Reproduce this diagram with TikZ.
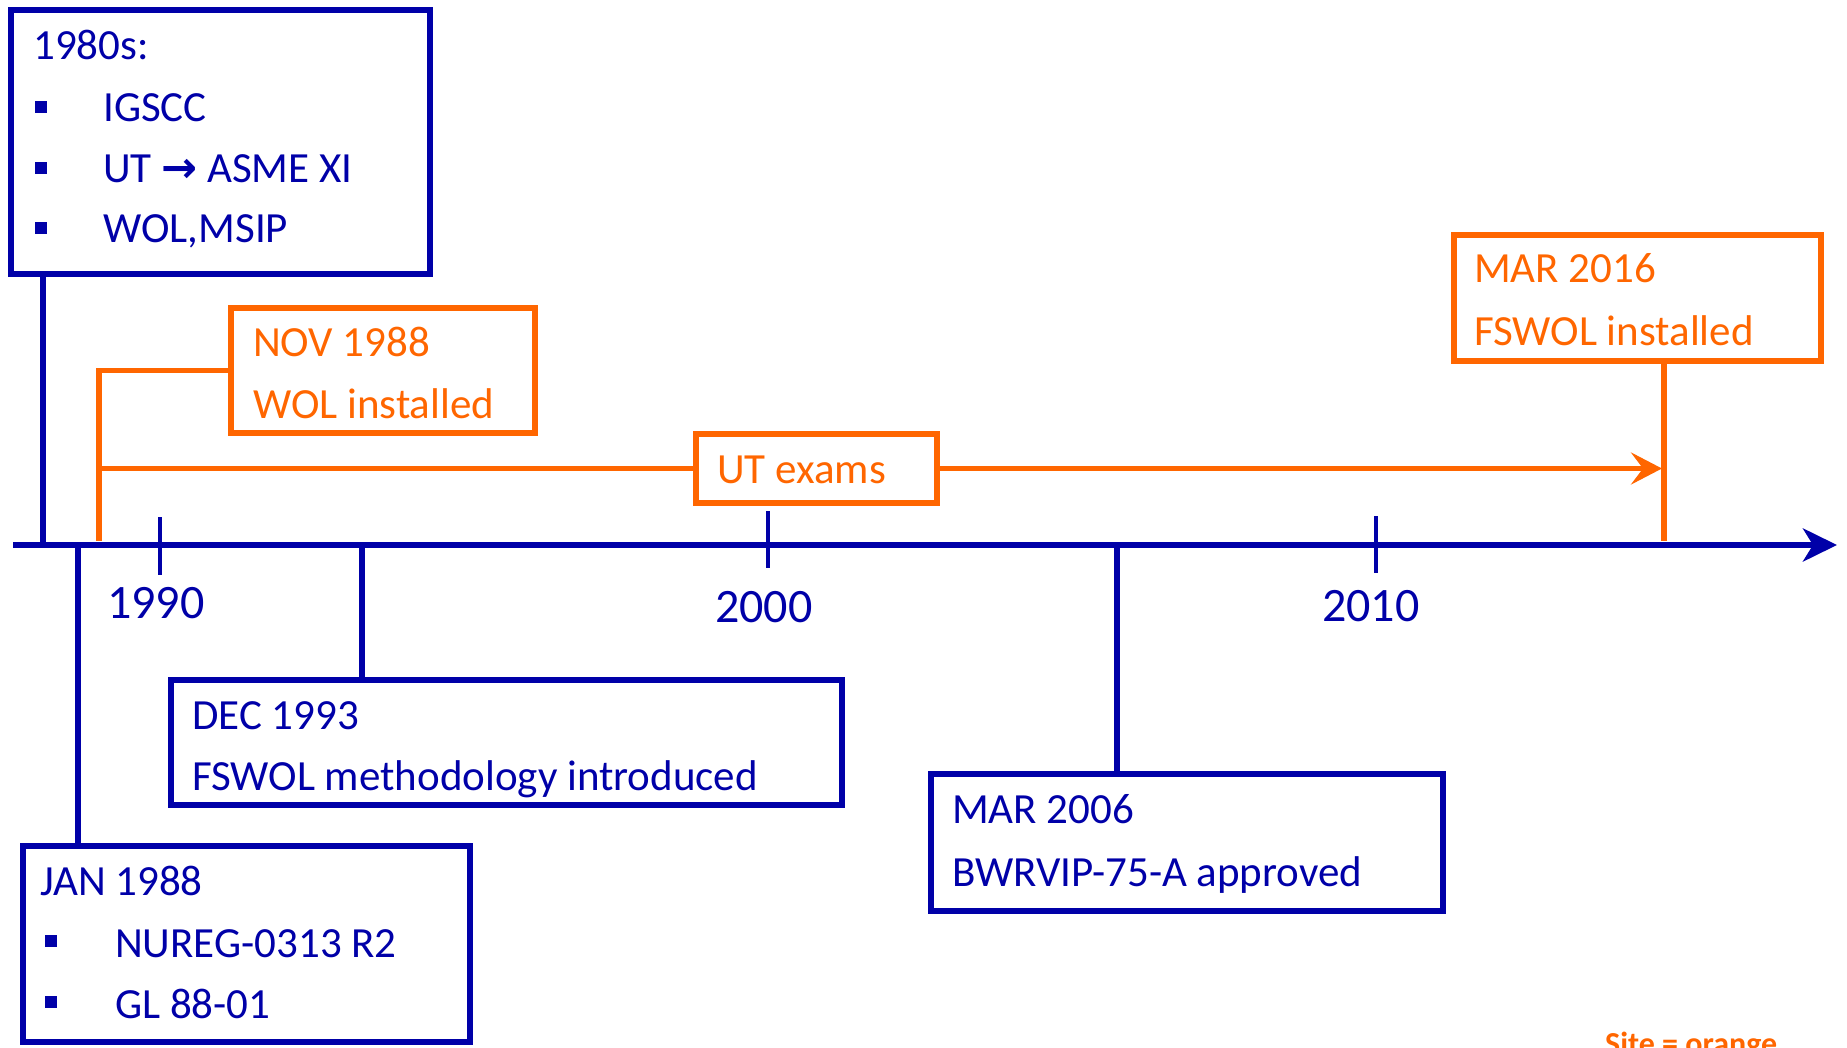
\documentclass[tikz,border=0pt]{standalone}
\usepackage{fontspec}
\setmainfont{Carlito}
\newfontfamily\arrowfont{DejaVu Sans}
\usetikzlibrary{arrows.meta}
\definecolor{tlblue}{RGB}{0,0,168}
\definecolor{tlorange}{RGB}{255,102,0}
\begin{document}
\begin{tikzpicture}[x=1pt,y=-1pt,
  bluebox/.style={rectangle,draw=tlblue,line width=6pt,inner sep=0pt,outer sep=0pt},
  orangebox/.style={rectangle,draw=tlorange,line width=6pt,inner sep=0pt,outer sep=0pt},
  btxt/.style={text=tlblue,anchor=base west,inner sep=0pt,font=\fontsize{43}{50}\selectfont},
  otxt/.style={text=tlorange,anchor=base west,inner sep=0pt,font=\fontsize{43}{50}\selectfont},
  yeartxt/.style={text=tlblue,anchor=base west,inner sep=0pt,font=\fontsize{48}{56}\selectfont},
  sqbullet/.style={rectangle,fill=tlblue,minimum size=12pt,inner sep=0pt,outer sep=0pt},
  blueline/.style={draw=tlblue,line width=6pt},
  orangeline/.style={draw=tlorange,line width=5.5pt},
  tickline/.style={draw=tlblue,line width=4pt}]
\useasboundingbox (0,0) rectangle (1847,1048);

% boxes
\node[bluebox,minimum width=419pt,minimum height=264pt] (b1980) at (220.5,142) {};
\node[bluebox,minimum width=447pt,minimum height=196pt] (bjan) at (246.5,944) {};
\node[orangebox,minimum width=304pt,minimum height=125pt] (bnov) at (383,370.5) {};
\node[orangebox,minimum width=241pt,minimum height=69pt] (but) at (816.5,468.5) {};
\node[orangebox,minimum width=367pt,minimum height=126pt] (bm16) at (1637.5,298) {};
\node[bluebox,minimum width=671pt,minimum height=125pt] (bdec) at (506.5,742.5) {};
\node[bluebox,minimum width=512pt,minimum height=137pt] (bm06) at (1187,842.5) {};

% texts
\node[btxt] (t1980) at (33,60) {1980s:};
\node[sqbullet] (s1) at (41,107) {};
\node[btxt] (t1980a) at (103,122) {IGSCC};
\node[sqbullet] (s2) at (41,168) {};
\node[btxt] (t1980b) at (103,183) {UT {\arrowfont\bfseries →} ASME XI};
\node[sqbullet] (s3) at (41,228) {};
\node[btxt] (t1980c) at (103,243) {WOL,MSIP};

\node[btxt] (tjan) at (40,895) {JAN 1988};
\node[sqbullet] (s4) at (51,941) {};
\node[btxt] (tjana) at (115,957) {NUREG-0313 R2};
\node[sqbullet] (s5) at (51,1002) {};
\node[btxt] (tjanb) at (115,1018) {GL 88-01};

\node[otxt] (tnov) at (253,357) {NOV 1988};
\node[otxt] (tnovb) at (253,418) {WOL installed};
\node[otxt] (tut) at (717,483) {UT exams};
\node[otxt] (tm16) at (1474,283) {MAR 2016};
\node[otxt] (tm16b) at (1474,346) {FSWOL installed};
\node[btxt] (tdec) at (192,729) {DEC 1993};
\node[btxt] (tdecb) at (192,790) {FSWOL methodology introduced};
\node[btxt] (tm06) at (952,823) {MAR 2006};
\node[btxt] (tm06b) at (952,886) {BWRVIP-75-A approved};

\node[yeartxt] (y1990) at (107,618) {1990};
\node[yeartxt] (y2000) at (715,622) {2000};
\node[yeartxt] (y2010) at (1322,621) {2010};

\node[text=tlorange,anchor=base west,inner sep=0pt,font=\fontsize{32}{38}\selectfont\bfseries] (site) at (1605,1054) {Site = orange};

% coordinates
\coordinate (tls) at (13,545);
\coordinate (tle) at (1837,545);
\coordinate (c1980) at (43,545);
\coordinate (cjan) at (78,545);
\coordinate (cdec) at (362,545);
\coordinate (cm06) at (1117,545);
\coordinate (cnovcorner) at (99,370.5);
\coordinate (cnovbase) at (99,541);
\coordinate (utstart) at (99,468.5);
\coordinate (utend) at (1662,468.5);
\coordinate (cm16) at (1664,541);
\coordinate (k90a) at (160,517);
\coordinate (k90b) at (160,575);
\coordinate (k00a) at (768,511);
\coordinate (k00b) at (768,568);
\coordinate (k10a) at (1376,516);
\coordinate (k10b) at (1376,573);

% connectors
\draw[blueline] (b1980.south -| c1980) -- (c1980);
\draw[blueline] (cjan) -- (cjan |- bjan.north);
\draw[blueline] (cdec) -- (cdec |- bdec.north);
\draw[blueline] (cm06) -- (cm06 |- bm06.north);
\draw[orangeline] (bnov.west) -- (cnovcorner) -- (cnovbase);
\draw[orangeline] (utstart) -- (but.west);
\draw[orangeline,-{Stealth[length=31pt,width=32pt,inset=12pt]}] (but.east) -- (utend);
\draw[orangeline] (bm16.south -| cm16) -- (cm16);

% ticks
\draw[tickline] (k90a) -- (k90b);
\draw[tickline] (k00a) -- (k00b);
\draw[tickline] (k10a) -- (k10b);

% timeline
\draw[blueline,line width=6.5pt,-{Stealth[length=34pt,width=33pt,inset=10pt]}] (tls) -- (tle);
\end{tikzpicture}
\end{document}
